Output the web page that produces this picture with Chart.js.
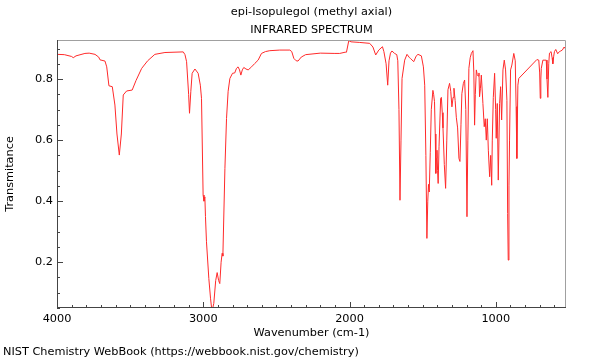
<!DOCTYPE html>
<html>
<head>
<meta charset="utf-8">
<script src="https://cdn.jsdelivr.net/npm/chart.js@4.4.0/dist/chart.umd.min.js"></script>
<style>
  body { margin: 0; background: #fff; }
  #wrap { position: relative; width: 600px; height: 360px; }
  #footer { position: absolute; left: 3px; top: 345px; font: 11.3px "DejaVu Sans", sans-serif; line-height: 14px; color: #000; white-space: nowrap; }
</style>
</head>
<body>
<div id="wrap">
  <canvas id="chartCanvas" width="600" height="360"></canvas>
  <div id="footer">NIST Chemistry WebBook (https://webbook.nist.gov/chemistry)</div>
</div>
<script>
// spectrum
const wavenumbers = [
  4000, 3950, 3900, 3889, 3870, 3809, 3780, 3740, 3715, 3706, 3672, 3660, 3645, 3622, 3604, 3590, 3574, 3560, 3547, 3524,
  3486, 3460, 3421, 3380, 3331, 3262, 3137, 3125, 3114, 3100, 3094, 3085, 3076, 3057, 3035, 3020, 3012, 3001, 2995, 2989,
  2985, 2978, 2962, 2950, 2943, 2935, 2928, 2915, 2905, 2895, 2887, 2878, 2871, 2866, 2852, 2841, 2830, 2818, 2800, 2785,
  2773, 2762, 2752, 2743, 2733, 2723, 2708, 2693, 2670, 2648, 2625, 2602, 2575, 2545, 2477, 2408, 2395, 2381, 2365, 2352,
  2330, 2300, 2200, 2100, 2067, 2030, 2021, 2005, 1990, 1930, 1862, 1840, 1821, 1800, 1775, 1765, 1750, 1739, 1730, 1720,
  1710, 1692, 1677, 1670, 1662, 1655, 1648, 1641, 1623, 1607, 1590, 1584, 1561, 1545, 1532, 1509, 1495, 1486, 1478, 1471,
  1465, 1460, 1455, 1448, 1441, 1430, 1425, 1419, 1414, 1410, 1406, 1402, 1398, 1394, 1388, 1377, 1372, 1366, 1361, 1352,
  1343, 1335, 1327, 1316, 1308, 1300, 1292, 1286, 1278, 1270, 1261, 1252, 1245, 1238, 1232, 1222, 1213, 1205, 1197, 1191,
  1184, 1175, 1167, 1156, 1150, 1145, 1140, 1133, 1127, 1121, 1115, 1111, 1105, 1099, 1088, 1079, 1072, 1065, 1058, 1051,
  1042, 1035, 1028, 1024, 1017, 1008, 1001, 997, 990, 983, 974, 967, 960, 951, 942, 933, 924,
  919, 915, 910, 906, 899, 890, 877, 867, 861, 856, 849, 843, 719, 706, 700, 696, 692, 689, 678,
  655, 650, 644, 638, 633, 622, 615, 610, 604, 599, 590, 577, 565, 556, 545, 533, 525, 520
];
const transmittance = [
  0.881, 0.880, 0.874, 0.870, 0.876, 0.884, 0.885, 0.881, 0.872, 0.863, 0.859, 0.840, 0.778, 0.775, 0.715, 0.620, 0.551, 0.620, 0.748, 0.761,
  0.764, 0.795, 0.835, 0.860, 0.881, 0.887, 0.889, 0.880, 0.857, 0.750, 0.688, 0.760, 0.819, 0.833, 0.819, 0.780, 0.737, 0.420, 0.400, 0.414,
  0.350, 0.267, 0.147, 0.080, 0.050, 0.050, 0.065, 0.140, 0.166, 0.140, 0.130, 0.200, 0.229, 0.220, 0.507, 0.671, 0.760, 0.802, 0.819, 0.820,
  0.835, 0.840, 0.830, 0.813, 0.830, 0.838, 0.833, 0.830, 0.840, 0.851, 0.862, 0.884, 0.890, 0.893, 0.895, 0.895, 0.890, 0.868, 0.860, 0.859,
  0.872, 0.880, 0.885, 0.884, 0.884, 0.888, 0.888, 0.926, 0.922, 0.920, 0.917, 0.905, 0.879, 0.895, 0.906, 0.890, 0.850, 0.780, 0.860, 0.885,
  0.892, 0.884, 0.880, 0.860, 0.700, 0.403, 0.600, 0.802, 0.862, 0.881, 0.870, 0.868, 0.857, 0.875, 0.881, 0.876, 0.840, 0.780, 0.550, 0.278,
  0.400, 0.455, 0.430, 0.560, 0.700, 0.763, 0.750, 0.726, 0.620, 0.491, 0.540, 0.567, 0.500, 0.458, 0.580, 0.737, 0.740, 0.690, 0.640, 0.520,
  0.442, 0.600, 0.765, 0.786, 0.760, 0.709, 0.740, 0.770, 0.730, 0.675, 0.640, 0.540, 0.530, 0.650, 0.752, 0.785, 0.797, 0.700, 0.349, 0.600,
  0.835, 0.870, 0.884, 0.893, 0.820, 0.649, 0.750, 0.830, 0.815, 0.810, 0.820, 0.742, 0.770, 0.813, 0.720, 0.644, 0.670, 0.600, 0.670, 0.567,
  0.480, 0.550, 0.452, 0.600, 0.740, 0.819, 0.700, 0.606, 0.720, 0.469, 0.720, 0.775, 0.666, 0.830, 0.862, 0.830, 0.730,
  0.360, 0.207, 0.450, 0.600, 0.830, 0.846, 0.884, 0.860, 0.710, 0.540, 0.780, 0.802, 0.864, 0.862, 0.820, 0.737, 0.800, 0.835, 0.862,
  0.862, 0.800, 0.740, 0.850, 0.885, 0.890, 0.870, 0.850, 0.875, 0.890, 0.897, 0.883, 0.890, 0.892, 0.895, 0.905, 0.900, 0.905
];

const xMajorTicks = [4000, 3000, 2000, 1000];
const yMajorTicks = [0.2, 0.4, 0.6, 0.8];
const xMinorStep = 100;
const yMinorStep = 0.05;

const titleLines = ["epi-Isopulegol (methyl axial)", "INFRARED SPECTRUM"];
const FONT = { family: "'DejaVu Sans', sans-serif", size: 11.3 };

const points = wavenumbers.map((w, i) => ({ x: w, y: transmittance[i] }));

// frame + inward ticks, like the NIST plots
const frameTicks = {
  id: "frameTicks",
  afterDraw(chart) {
    const { ctx, chartArea: a, scales: { x, y } } = chart;
    ctx.save();
    ctx.lineWidth = 1;
    ctx.strokeStyle = "#a0a0a0";
    ctx.beginPath();
    ctx.moveTo(a.left, a.top + 0.5);
    ctx.lineTo(a.right - 0.5, a.top + 0.5);
    ctx.lineTo(a.right - 0.5, a.bottom);
    ctx.stroke();

    ctx.strokeStyle = "#444";
    ctx.beginPath();
    ctx.moveTo(a.left + 0.5, a.top);
    ctx.lineTo(a.left + 0.5, a.bottom - 0.5);
    ctx.lineTo(a.right, a.bottom - 0.5);
    ctx.stroke();

    ctx.beginPath();
    for (let v = Math.ceil(x.min / xMinorStep) * xMinorStep; v <= x.max; v += xMinorStep) {
      const px = Math.round(x.getPixelForValue(v)) + 0.5;
      const len = xMajorTicks.includes(v) ? 6 : 3;
      ctx.moveTo(px, a.bottom);
      ctx.lineTo(px, a.bottom - len);
    }
    for (let k = Math.ceil(y.min / yMinorStep); k * yMinorStep <= y.max + 1e-9; k++) {
      const v = +(k * yMinorStep).toFixed(2);
      const py = Math.round(y.getPixelForValue(v)) + 0.5;
      const len = yMajorTicks.includes(v) ? 6 : 3;
      ctx.moveTo(a.left, py);
      ctx.lineTo(a.left + len, py);
    }
    ctx.stroke();
    ctx.restore();
  }
};

new Chart(document.getElementById("chartCanvas"), {
  type: "scatter",
  data: {
    datasets: [{
      data: points,
      showLine: true,
      borderColor: "#ff2a2a",
      borderWidth: 1,
      pointRadius: 0,
      tension: 0
    }]
  },
  options: {
    responsive: false,
    animation: false,
    layout: { padding: { left: 0, right: 34, top: 0, bottom: 20 } },
    plugins: {
      legend: { display: false },
      tooltip: { enabled: false },
      title: {
        display: true,
        fullSize: false,
        text: titleLines,
        color: "#000",
        font: { ...FONT, weight: "normal", lineHeight: "18px" },
        padding: { top: 3, bottom: 1 }
      }
    },
    scales: {
      x: {
        type: "linear",
        reverse: true,
        min: 520,
        max: 4000,
        afterBuildTicks: s => { s.ticks = xMajorTicks.map(v => ({ value: v })); },
        afterFit: s => { s.height = 32; },
        grid: { display: false, drawTicks: false },
        border: { display: false },
        ticks: { color: "#000", font: FONT, padding: 4, maxRotation: 0, callback: v => String(v) },
        title: { display: true, text: "Wavenumber (cm-1)", color: "#000", font: FONT, padding: { top: 0.5, bottom: 0 } }
      },
      y: {
        min: 0.05,
        max: 0.928,
        afterBuildTicks: s => { s.ticks = yMajorTicks.map(v => ({ value: v })); },
        afterFit: s => { s.width = 57; },
        grid: { display: false, drawTicks: false },
        border: { display: false },
        ticks: { color: "#000", font: FONT, padding: 4, callback: v => v.toFixed(1) },
        title: { display: true, text: "Transmitance", color: "#000", font: FONT, padding: { top: 3, bottom: 0 } }
      }
    }
  },
  plugins: [frameTicks]
});
</script>
</body>
</html>
